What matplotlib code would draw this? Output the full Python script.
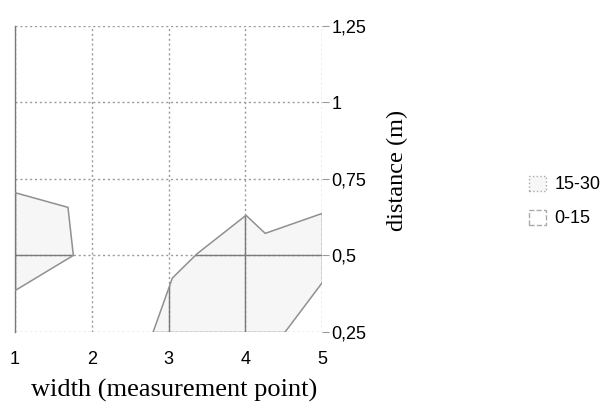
import matplotlib
matplotlib.use("Agg")
import matplotlib.pyplot as plt
from matplotlib.patches import Polygon, Patch

left_x = [1.0, 1.69, 1.76, 1.0]
left_y = [0.705, 0.657, 0.50, 0.385]
upper_x = [2.80, 3.05, 3.37, 4.01, 4.26, 5.0]
upper_y = [0.25, 0.426, 0.505, 0.631, 0.572, 0.637]
lower_x = [4.52, 5.0]
lower_y = [0.25, 0.41]

x_ticks = [1, 2, 3, 4, 5]
y_ticks = [0.25, 0.5, 0.75, 1.0, 1.25]
y_labels = ["0,25", "0,5", "0,75", "1", "1,25"]
legend_labels = ["15-30", "0-15"]

LINE = "#909090"
GRID = "#9a9a9a"
FILL = "#f6f6f6"

fig = plt.figure(figsize=(6.13, 4.17), dpi=100)
ax = fig.add_axes([0.0245, 0.204, 0.5008, 0.734])
ax.set_xlim(1, 5)
ax.set_ylim(0.25, 1.25)

# shaded band regions
band_left = Polygon(list(zip(left_x, left_y)), closed=True,
                    facecolor=FILL, edgecolor="none", zorder=1)
band_right = Polygon(list(zip(upper_x + lower_x[::-1], upper_y + lower_y[::-1])),
                     closed=True, facecolor=FILL, edgecolor="none", zorder=1)
ax.add_patch(band_left)
ax.add_patch(band_right)

# dotted grid everywhere, solid inside the bands
for xv in x_ticks:
    ax.axvline(xv, color=GRID, lw=1.0, ls=(0, (1.5, 2)), zorder=2)
for yv in y_ticks:
    ax.axhline(yv, color=GRID, lw=1.0, ls=(0, (1.5, 2)), zorder=2)
for band in (band_left, band_right):
    for xv in x_ticks:
        ln = ax.axvline(xv, color="#7a7a7a", lw=1.0, zorder=2)
        ln.set_clip_path(band)
    for yv in y_ticks:
        ln = ax.axhline(yv, color="#7a7a7a", lw=1.0, zorder=2)
        ln.set_clip_path(band)

ax.plot(left_x, left_y, color=LINE, lw=1.1, zorder=3)
ax.plot(upper_x, upper_y, color=LINE, lw=1.1, zorder=3)
ax.plot(lower_x, lower_y, color=LINE, lw=1.1, zorder=3)

for side in ["top", "right", "bottom"]:
    ax.spines[side].set_visible(False)
ax.spines["left"].set_color("#7a7a7a")
ax.spines["left"].set_linewidth(1.0)

ax.yaxis.tick_right()
ax.set_yticks(y_ticks)
ax.set_yticklabels(y_labels, family="Liberation Sans", fontsize=13)
ax.tick_params(axis="y", length=5, width=0.8, color=GRID, pad=2)
ax.set_xticks(x_ticks)
ax.set_xticklabels([str(v) for v in x_ticks], family="Liberation Sans", fontsize=13)
ax.tick_params(axis="x", length=0, pad=14)

fig.text(0.284, 0.063, "width (measurement point)", family="Liberation Serif",
         fontsize=19, ha="center", va="center")
fig.text(0.648, 0.592, "distance (m)", family="Liberation Serif",
         fontsize=17.5, rotation=90, ha="center", va="center")

handles = [Patch(facecolor=FILL, edgecolor="#aaaaaa", ls=":", lw=1.0),
           Patch(facecolor="white", edgecolor="#aaaaaa", ls="--", lw=1.0)]
leg = fig.legend(handles, legend_labels, loc="upper left",
                 bbox_to_anchor=(0.837, 0.618), frameon=False,
                 prop={"family": "Liberation Sans", "size": 13},
                 handlelength=0.9, handleheight=0.9, handletextpad=0.5,
                 labelspacing=0.9)

fig.savefig("out.png", dpi=100)
